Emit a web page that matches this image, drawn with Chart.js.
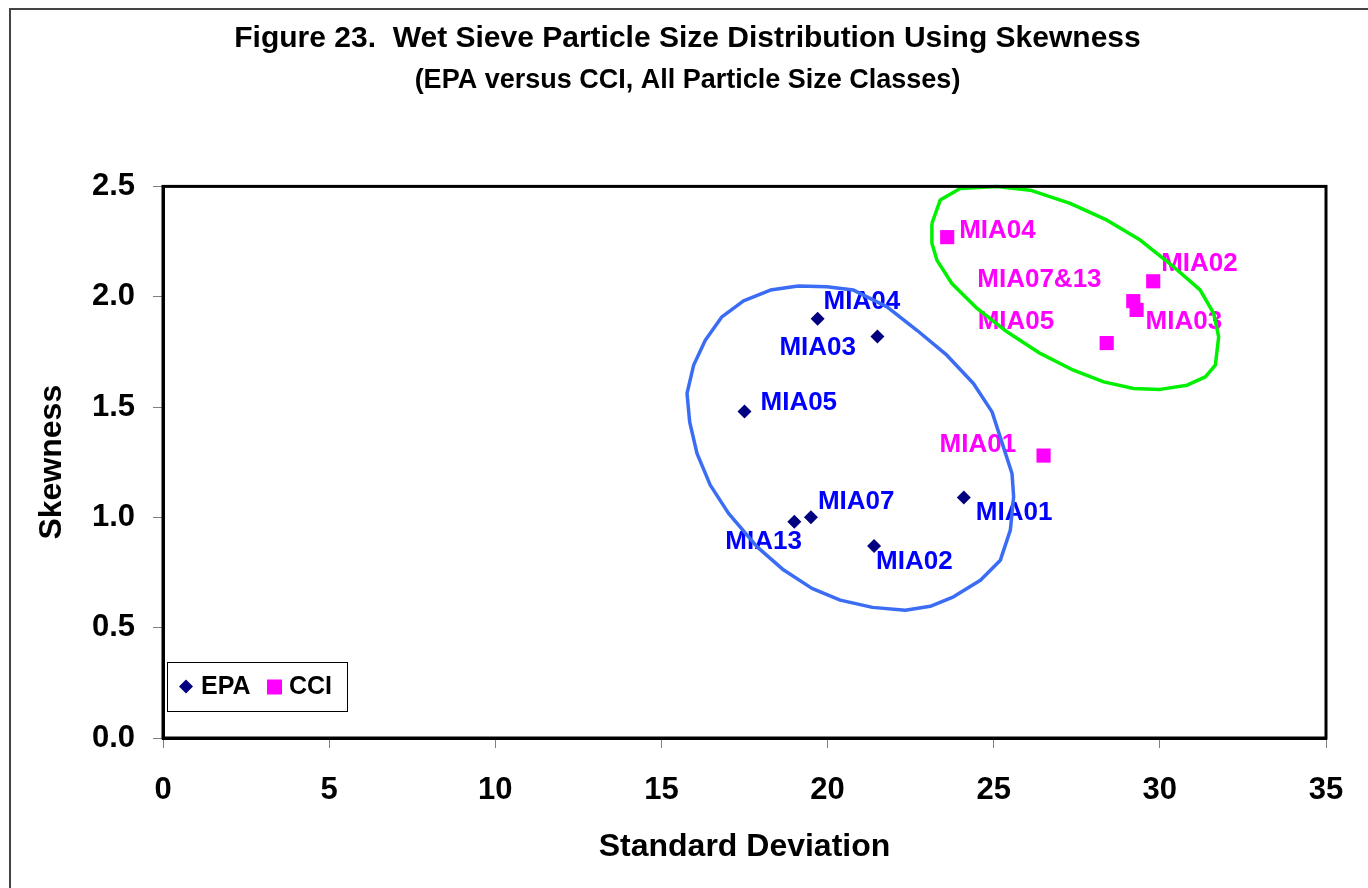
<!DOCTYPE html>
<html>
<head>
<meta charset="utf-8">
<title>Figure 23 - Wet Sieve Particle Size Distribution Using Skewness</title>
<script src="https://cdn.jsdelivr.net/npm/chart.js@4/dist/chart.umd.min.js"></script>
<style>
  html, body { margin: 0; padding: 0; background: #fff; }
  #wrap { width: 1368px; height: 888px; }
</style>
</head>
<body>
<div id="wrap"><canvas id="skewChart" width="1368" height="888"></canvas></div>
<script>
// ---- data ----
const epaSites = ['MIA04', 'MIA03', 'MIA05', 'MIA01', 'MIA07', 'MIA13', 'MIA02'];
const epaStdDev = [19.7, 21.5, 17.5, 24.1, 19.5, 19.0, 21.4];
const epaSkewness = [1.90, 1.82, 1.48, 1.09, 1.00, 0.98, 0.87];

const cciSites = ['MIA04', 'MIA02', 'MIA07&13', 'MIA03', 'MIA05', 'MIA01'];
const cciStdDev = [23.6, 29.8, 29.2, 29.3, 28.4, 26.5];
const cciSkewness = [2.27, 2.07, 1.98, 1.94, 1.79, 1.28];

// hand drawn outlines round each group (traced vertices)
const epaOutlineX = [19.11, 19.98, 20.78, 21.79, 22.69, 23.59, 24.39, 24.95, 25.55, 25.60, 25.50, 25.20, 24.60, 23.79, 23.09, 22.34, 21.35, 20.38, 19.53, 18.68, 17.88, 17.02, 16.47, 16.07, 15.85, 15.77, 15.97, 16.32, 16.82, 17.47, 18.28, 19.11];
const epaOutlineY = [2.049, 2.045, 2.030, 1.954, 1.848, 1.735, 1.607, 1.478, 1.199, 1.093, 0.942, 0.806, 0.715, 0.640, 0.597, 0.579, 0.592, 0.625, 0.678, 0.761, 0.866, 1.018, 1.146, 1.290, 1.433, 1.562, 1.690, 1.803, 1.909, 1.981, 2.030, 2.049];
const cciOutlineX = [23.14, 23.39, 23.99, 25.10, 26.10, 27.30, 28.41, 29.41, 30.41, 31.21, 31.62, 31.77, 31.67, 31.37, 30.82, 30.01, 29.21, 28.31, 27.40, 26.40, 25.40, 24.50, 23.74, 23.29, 23.14, 23.14];
const cciOutlineY = [2.332, 2.438, 2.491, 2.500, 2.483, 2.423, 2.347, 2.257, 2.136, 2.031, 1.924, 1.818, 1.690, 1.637, 1.599, 1.580, 1.584, 1.614, 1.667, 1.743, 1.841, 1.947, 2.060, 2.166, 2.242, 2.332];

const xTicks = [0, 5, 10, 15, 20, 25, 30, 35];
const yTicks = [0.0, 0.5, 1.0, 1.5, 2.0, 2.5];

// ---- label placement (pixels from the marker: left edge, vertical centre) ----
const epaLabelOffset = [[6, -17], [-98, 11], [16, -9], [12, 15], [7, -16], [-69, 20], [2, 16]];
const cciLabelOffset = [[12, -6], [8, -17], [-156, -21], [9, 12], [-129, -21], [-104, -11]];

const toPoints = (xs, ys) => xs.map((x, i) => ({ x: x, y: ys[i] }));

const EPA_MARK = '#000080';
const EPA_TEXT = '#0000FF';
const CCI_MARK = '#FF00FF';

// outer frame of the figure + heavy plot border
const framePlugin = {
  id: 'frame',
  beforeDraw(chart) {
    const ctx = chart.ctx;
    ctx.save();
    ctx.fillStyle = '#fff';
    ctx.fillRect(0, 0, chart.width, chart.height);
    ctx.strokeStyle = '#444';
    ctx.lineWidth = 2;
    ctx.strokeRect(10, 9, chart.width + 20, chart.height + 20);
    ctx.restore();
  },
  afterDatasetsDraw(chart) {
    const a = chart.chartArea;
    const ctx = chart.ctx;
    ctx.save();
    ctx.strokeStyle = '#000';
    ctx.lineWidth = 3;
    ctx.strokeRect(a.left, a.top, a.right - a.left, a.bottom - a.top);
    ctx.restore();
  }
};

// site names next to the markers
const siteLabelPlugin = {
  id: 'siteLabels',
  beforeDatasetsDraw(chart) {
    const ctx = chart.ctx;
    ctx.save();
    ctx.font = 'bold 26px "Liberation Sans", Arial, sans-serif';
    ctx.textBaseline = 'middle';
    ctx.textAlign = 'left';
    const groups = [
      { idx: 0, names: epaSites, off: epaLabelOffset, color: EPA_TEXT },
      { idx: 1, names: cciSites, off: cciLabelOffset, color: CCI_MARK }
    ];
    groups.forEach(g => {
      const meta = chart.getDatasetMeta(g.idx);
      ctx.fillStyle = g.color;
      meta.data.forEach((pt, i) => {
        ctx.fillText(g.names[i], pt.x + g.off[i][0], pt.y + g.off[i][1]);
      });
    });
    ctx.restore();
  }
};

// small boxed legend inside the plot, lower left
const boxLegendPlugin = {
  id: 'boxLegend',
  afterDraw(chart) {
    const ctx = chart.ctx;
    const a = chart.chartArea;
    const left = a.left + 4, top = 662, w = 180, h = 49;
    const cy = top + h / 2;
    ctx.save();
    ctx.strokeStyle = '#000';
    ctx.lineWidth = 1;
    ctx.strokeRect(left + 0.5, top + 0.5, w, h);

    ctx.fillStyle = EPA_MARK;
    ctx.beginPath();
    ctx.moveTo(left + 19, cy - 7);
    ctx.lineTo(left + 26, cy);
    ctx.lineTo(left + 19, cy + 7);
    ctx.lineTo(left + 12, cy);
    ctx.closePath();
    ctx.fill();

    ctx.fillStyle = CCI_MARK;
    ctx.fillRect(left + 100, cy - 7, 15, 15);

    ctx.fillStyle = '#000';
    ctx.font = 'bold 25px "Liberation Sans", Arial, sans-serif';
    ctx.textBaseline = 'middle';
    ctx.fillText(chart.data.datasets[0].label, left + 34, cy + 1);
    ctx.fillText(chart.data.datasets[1].label, left + 122, cy + 1);
    ctx.restore();
  }
};

const tickFont = { family: '"Liberation Sans", Arial, sans-serif', size: 31, weight: 'bold' };
const titleFont = { family: '"Liberation Sans", Arial, sans-serif', size: 32, weight: 'bold' };

new Chart(document.getElementById('skewChart'), {
  type: 'scatter',
  data: {
    datasets: [
      {
        label: 'EPA',
        data: toPoints(epaStdDev, epaSkewness),
        pointStyle: 'rectRot',
        pointRadius: 7,
        pointHoverRadius: 7,
        backgroundColor: EPA_MARK,
        borderColor: EPA_MARK,
        borderWidth: 0,
        order: 2,
        clip: false
      },
      {
        label: 'CCI',
        data: toPoints(cciStdDev, cciSkewness),
        pointStyle: 'rect',
        pointRadius: 10,
        pointHoverRadius: 10,
        backgroundColor: CCI_MARK,
        borderColor: CCI_MARK,
        borderWidth: 0,
        order: 2,
        clip: false
      },
      {
        label: 'EPA group',
        type: 'line',
        data: toPoints(epaOutlineX, epaOutlineY),
        borderColor: '#3a6cf4',
        borderWidth: 3.5,
        borderJoinStyle: 'round',
        pointRadius: 0,
        tension: 0,
        fill: false,
        order: 1,
        clip: false
      },
      {
        label: 'CCI group',
        type: 'line',
        data: toPoints(cciOutlineX, cciOutlineY),
        borderColor: '#00f000',
        borderWidth: 3.5,
        borderJoinStyle: 'round',
        pointRadius: 0,
        tension: 0,
        fill: false,
        order: 1,
        clip: false
      }
    ]
  },
  options: {
    responsive: false,
    animation: false,
    events: [],
    layout: { padding: { left: 49, right: 42, top: 0, bottom: 0 } },
    plugins: {
      legend: { display: false },
      tooltip: { enabled: false },
      title: {
        display: true,
        text: 'Figure 23.  Wet Sieve Particle Size Distribution Using Skewness',
        color: '#000',
        font: { family: '"Liberation Sans", Arial, sans-serif', size: 30, weight: 'bold' },
        padding: { top: 21, bottom: 7 }
      },
      subtitle: {
        display: true,
        text: '(EPA versus CCI, All Particle Size Classes)',
        color: '#000',
        font: { family: '"Liberation Sans", Arial, sans-serif', size: 27, weight: 'bold' },
        padding: { top: 0, bottom: 90 }
      }
    },
    scales: {
      x: {
        type: 'linear',
        min: xTicks[0],
        max: xTicks[xTicks.length - 1],
        afterBuildTicks: s => { s.ticks = xTicks.map(v => ({ value: v })); },
        afterFit: s => { s.height = 150; },
        ticks: { color: '#000', font: tickFont, padding: 24, maxRotation: 0 },
        grid: { drawOnChartArea: false, drawTicks: true, tickLength: 10, color: '#808080' },
        border: { display: true, color: '#000', width: 3 },
        title: { display: true, text: 'Standard Deviation', color: '#000', font: titleFont, padding: { top: 0, bottom: 22 } }
      },
      y: {
        type: 'linear',
        min: yTicks[0],
        max: yTicks[yTicks.length - 1],
        afterBuildTicks: s => { s.ticks = yTicks.map(v => ({ value: v })); },
        afterFit: s => { s.width = 114; },
        ticks: { color: '#000', font: tickFont, padding: 18, callback: v => Number(v).toFixed(1) },
        grid: { drawOnChartArea: false, drawTicks: true, tickLength: 10, color: '#808080' },
        border: { display: true, color: '#000', width: 3 },
        title: { display: true, text: 'Skewness', color: '#000', font: titleFont, padding: { top: -16, bottom: 0 } }
      }
    }
  },
  plugins: [framePlugin, siteLabelPlugin, boxLegendPlugin]
});
</script>
</body>
</html>
